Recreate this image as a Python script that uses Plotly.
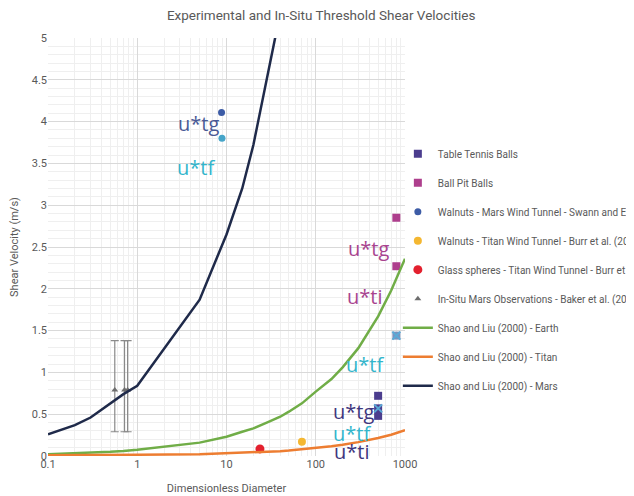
import math
import plotly.graph_objects as go

# ---- data ----
curve_x = [0.1, 0.2, 0.3, 0.5, 0.7, 1, 5, 10, 15, 20, 30, 40, 50, 70, 100, 150, 200, 300, 500, 700, 1000]
earth_y = [0.02, 0.03, 0.035, 0.05, 0.06, 0.075, 0.16, 0.23, 0.29, 0.33, 0.41, 0.47, 0.53, 0.63,
           0.77, 0.92, 1.06, 1.29, 1.67, 1.98, 2.36]
titan_y = [0.01, 0.01, 0.012, 0.013, 0.014, 0.015, 0.02, 0.03, 0.035, 0.04, 0.05, 0.058, 0.065, 0.08,
           0.095, 0.117, 0.135, 0.166, 0.215, 0.255, 0.31]
mars_y = [0.26, 0.37, 0.46, 0.63, 0.74, 0.84, 1.87, 2.65, 3.2, 3.72, 4.62, 5.3, 5.9, 7.0,
          8.5, 10.3, 12.0, 14.7, 19.0, 22.5, 27.0]

ttb_x = [500, 500, 500]
ttb_y = [0.72, 0.57, 0.48]
bpb_x = [800, 800, 800]
bpb_y = [2.85, 2.27, 1.44]
wm_x = [8.8, 8.9]
wm_y = [4.11, 3.80]
wt_x = [70]
wt_y = [0.17]
gs_x = [23.7]
gs_y = [0.085]
ins_x = [0.56, 0.72, 0.78]
ins_y = [0.79, 0.79, 0.79]
ins_up = [0.59, 0.59, 0.59]
ins_dn = [0.50, 0.50, 0.50]
xmark_x = [500, 800]
xmark_y = [0.57, 1.44]

lab_text = ["u*tg", "u*tf", "u*tg", "u*ti", "u*tf", "u*tg", "u*tf", "u*ti"]
lab_x = [4.8, 4.55, 388, 356, 356, 264, 253, 253]
lab_y = [3.98, 3.45, 2.48, 1.91, 1.10, 0.53, 0.27, 0.05]
lab_col = ["#4A5A96", "#33B5CB", "#A8438F", "#A8438F", "#33B5CB", "#3E367D", "#33B5CB", "#3E367D"]

xtick_vals = [0.1, 1, 10, 100, 1000]
xtick_text = ["0.1", "1", "10", "100", "1000"]
ytick_vals = [0, 0.5, 1, 1.5, 2, 2.5, 3, 3.5, 4, 4.5, 5]
ytick_text = ["0", "0.5", "1", "1.5", "2", "2.5", "3", "3.5", "4", "4.5", "5"]

FONT = "Roboto, Liberation Sans, sans-serif"
GRAY = "#595959"

fig = go.Figure()

fig.add_trace(go.Scatter(x=ttb_x, y=ttb_y, mode="markers", name="Table Tennis Balls",
                         legendgroup="a",
                         marker=dict(symbol="square", size=8, color="#4B3D8E")))
fig.add_trace(go.Scatter(x=bpb_x, y=bpb_y, mode="markers", name="Ball Pit Balls",
                         legendgroup="b",
                         marker=dict(symbol="square", size=8, color=["#AE3F8D", "#AE3F8D", "#7A93BE"])))
fig.add_trace(go.Scatter(x=wm_x, y=wm_y, mode="markers",
                         name="Walnuts - Mars Wind Tunnel - Swann and Ewing (2017)",
                         legendgroup="c",
                         marker=dict(symbol="circle", size=7, color=["#3D5CA6", "#46A5C9"])))
fig.add_trace(go.Scatter(x=wt_x, y=wt_y, mode="markers",
                         name="Walnuts - Titan Wind Tunnel - Burr et al. (2015)",
                         legendgroup="d",
                         marker=dict(symbol="circle", size=8, color="#F4B731")))
fig.add_trace(go.Scatter(x=gs_x, y=gs_y, mode="markers",
                         name="Glass spheres - Titan Wind Tunnel - Burr et al. (2015)",
                         legendgroup="e",
                         marker=dict(symbol="circle", size=9, color="#E3202E")))
fig.add_trace(go.Scatter(x=ins_x, y=ins_y, mode="markers",
                         name="In-Situ Mars Observations - Baker et al. (2018)",
                         legendgroup="f",
                         marker=dict(symbol="triangle-up", size=6, color="#6E6E6E"),
                         error_y=dict(type="data", symmetric=False, array=ins_up, arrayminus=ins_dn,
                                      color="#8A8A8A", thickness=1.2, width=4)))
fig.add_trace(go.Scatter(x=curve_x, y=earth_y, mode="lines", name="Shao and Liu (2000) - Earth",
                         legendgroup="g",
                         line=dict(color="#70AD47", width=2.5)))
fig.add_trace(go.Scatter(x=curve_x, y=titan_y, mode="lines", name="Shao and Liu (2000) - Titan",
                         legendgroup="h",
                         line=dict(color="#ED7D31", width=2.5)))
fig.add_trace(go.Scatter(x=curve_x, y=mars_y, mode="lines", name="Shao and Liu (2000) - Mars",
                         legendgroup="i",
                         line=dict(color="#1F2A4A", width=2.5)))
fig.add_trace(go.Scatter(x=xmark_x, y=xmark_y, mode="markers", showlegend=False,
                         marker=dict(symbol="x-thin", size=8, line=dict(color="#5AA9D6", width=2))))

for t, x, y, c in zip(lab_text, lab_x, lab_y, lab_col):
    fig.add_annotation(x=math.log10(x), y=y, xref="x", yref="y", text=t, showarrow=False,
                       font=dict(family="Open Sans, sans-serif", size=20, color=c))

fig.update_layout(
    width=634, height=496,
    margin=dict(l=40, r=237, t=30, b=48, autoexpand=False),
    paper_bgcolor="white", plot_bgcolor="white",
    title=dict(text="Experimental and In-Situ Threshold Shear Velocities",
               x=0.494, xanchor="center", y=0.986, yanchor="middle",
               font=dict(family=FONT, size=13.5, color=GRAY)),
    font=dict(family=FONT, color=GRAY, size=11),
    legend=dict(x=0.98, xanchor="left", y=0.758, yanchor="top",
                bgcolor="rgba(0,0,0,0)", tracegroupgap=10,
                font=dict(family=FONT, size=10, color=GRAY)),
    xaxis=dict(type="log", range=[-1, 3], tickvals=xtick_vals, ticktext=xtick_text,
               showgrid=True, gridcolor="#D9D9D9", gridwidth=1, zeroline=False,
               showline=False, ticks="",
               minor=dict(showgrid=True, gridcolor="#EFEFEF", dtick="D1"),
               title=dict(text="Dimensionless Diameter", font=dict(size=11, color=GRAY), standoff=14),
               tickfont=dict(size=11, color=GRAY)),
    yaxis=dict(range=[0, 5], tickvals=ytick_vals, ticktext=ytick_text,
               showgrid=True, gridcolor="#D9D9D9", gridwidth=1, zeroline=False,
               showline=False, ticks="",
               minor=dict(showgrid=True, gridcolor="#EFEFEF", dtick=0.1),
               title=dict(text="Shear Velocity (m/s)", font=dict(size=11, color=GRAY), standoff=10),
               tickfont=dict(size=11, color=GRAY)),
)

fig.write_html("out.html")
